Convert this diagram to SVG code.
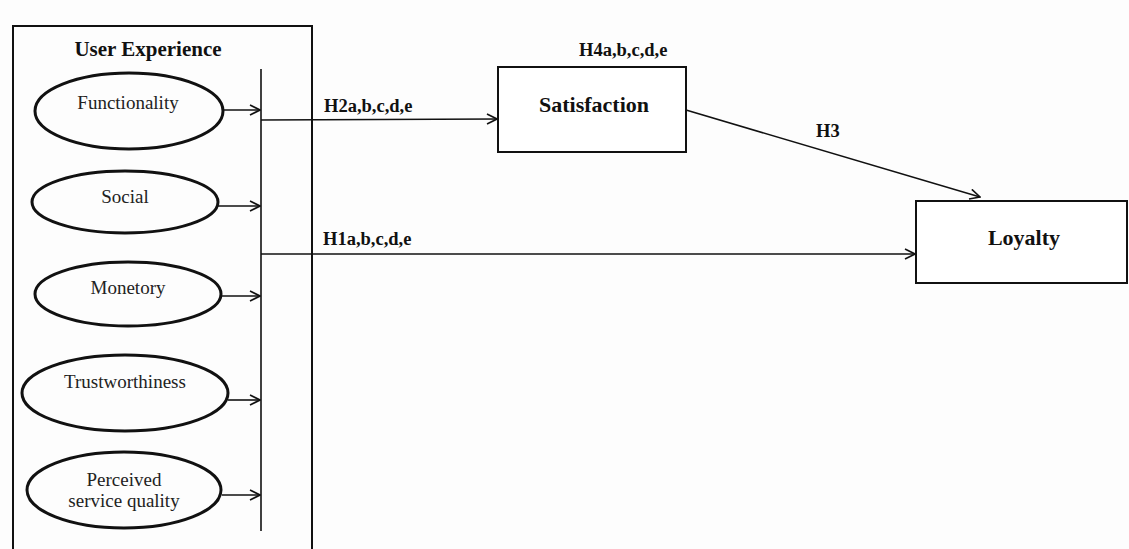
<svg xmlns="http://www.w3.org/2000/svg" width="1129" height="549" viewBox="0 0 1129 549">
<style>
.bg{fill:#fdfdfd}
.frame{fill:none;stroke:#111;stroke-width:2}
.ell{fill:none;stroke:#111;stroke-width:3}
.box{fill:#fff;stroke:#111;stroke-width:2}
.ln{fill:none;stroke:#111;stroke-width:1.6}
.lbl{font-family:"Liberation Serif","Times New Roman",serif;font-size:19px;fill:#222;text-anchor:middle}
.bold{font-family:"Liberation Serif","Times New Roman",serif;font-weight:bold;fill:#111}
</style>
<defs>
<marker id="arr" viewBox="0 0 12 12" refX="11" refY="6" markerWidth="12" markerHeight="12" markerUnits="userSpaceOnUse" orient="auto">
<path d="M1,1 L11,6 L1,11" fill="none" stroke="#111" stroke-width="1.6"/>
</marker>
</defs>
<rect class="bg" x="0" y="0" width="1129" height="549"/>
<g id="user-experience">
<path class="frame" d="M13,549 L13,26 L312,26 L312,549"/>
<text class="bold" x="148" y="56" font-size="21" text-anchor="middle">User Experience</text>
</g>
<g id="functionality">
<ellipse class="ell" cx="129" cy="111" rx="94" ry="38"/>
<text class="lbl" x="128" y="109">Functionality</text>
</g>
<g id="social">
<ellipse class="ell" cx="125" cy="202" rx="93" ry="31"/>
<text class="lbl" x="125" y="203">Social</text>
</g>
<g id="monetory">
<ellipse class="ell" cx="128" cy="294" rx="93" ry="32"/>
<text class="lbl" x="128" y="294">Monetory</text>
</g>
<g id="trustworthiness">
<ellipse class="ell" cx="125" cy="393" rx="103" ry="38"/>
<text class="lbl" x="125" y="388">Trustworthiness</text>
</g>
<g id="perceived-service-quality">
<ellipse class="ell" cx="124" cy="490" rx="97" ry="38"/>
<text class="lbl" x="124" y="486">Perceived</text>
<text class="lbl" x="124" y="507">service quality</text>
</g>
<g id="satisfaction">
<rect class="box" x="498" y="67" width="188" height="85"/>
<text class="bold" x="594" y="112" font-size="22" text-anchor="middle">Satisfaction</text>
</g>
<g id="loyalty">
<rect class="box" x="916" y="201" width="211" height="82"/>
<text class="bold" x="1024" y="245" font-size="22" text-anchor="middle">Loyalty</text>
</g>
<g id="connectors">
<line class="ln" x1="261" y1="69" x2="261" y2="531"/>
<line class="ln" x1="223" y1="110" x2="260" y2="110" marker-end="url(#arr)"/>
<line class="ln" x1="218" y1="206" x2="260" y2="206" marker-end="url(#arr)"/>
<line class="ln" x1="222" y1="296" x2="260" y2="296" marker-end="url(#arr)"/>
<line class="ln" x1="228" y1="400" x2="260" y2="400" marker-end="url(#arr)"/>
<line class="ln" x1="222" y1="495" x2="260" y2="495" marker-end="url(#arr)"/>
<line class="ln" x1="261" y1="120" x2="497" y2="119" marker-end="url(#arr)"/>
<line class="ln" x1="261" y1="254" x2="915" y2="254" marker-end="url(#arr)"/>
<line class="ln" x1="686" y1="110" x2="980" y2="197" marker-end="url(#arr)"/>
<text class="bold" x="324" y="112" font-size="18.5">H2a,b,c,d,e</text>
<text class="bold" x="579" y="56" font-size="18.5">H4a,b,c,d,e</text>
<text class="bold" x="323" y="245" font-size="18.5">H1a,b,c,d,e</text>
<text class="bold" x="816" y="137" font-size="18.5">H3</text>
</g>
</svg>
